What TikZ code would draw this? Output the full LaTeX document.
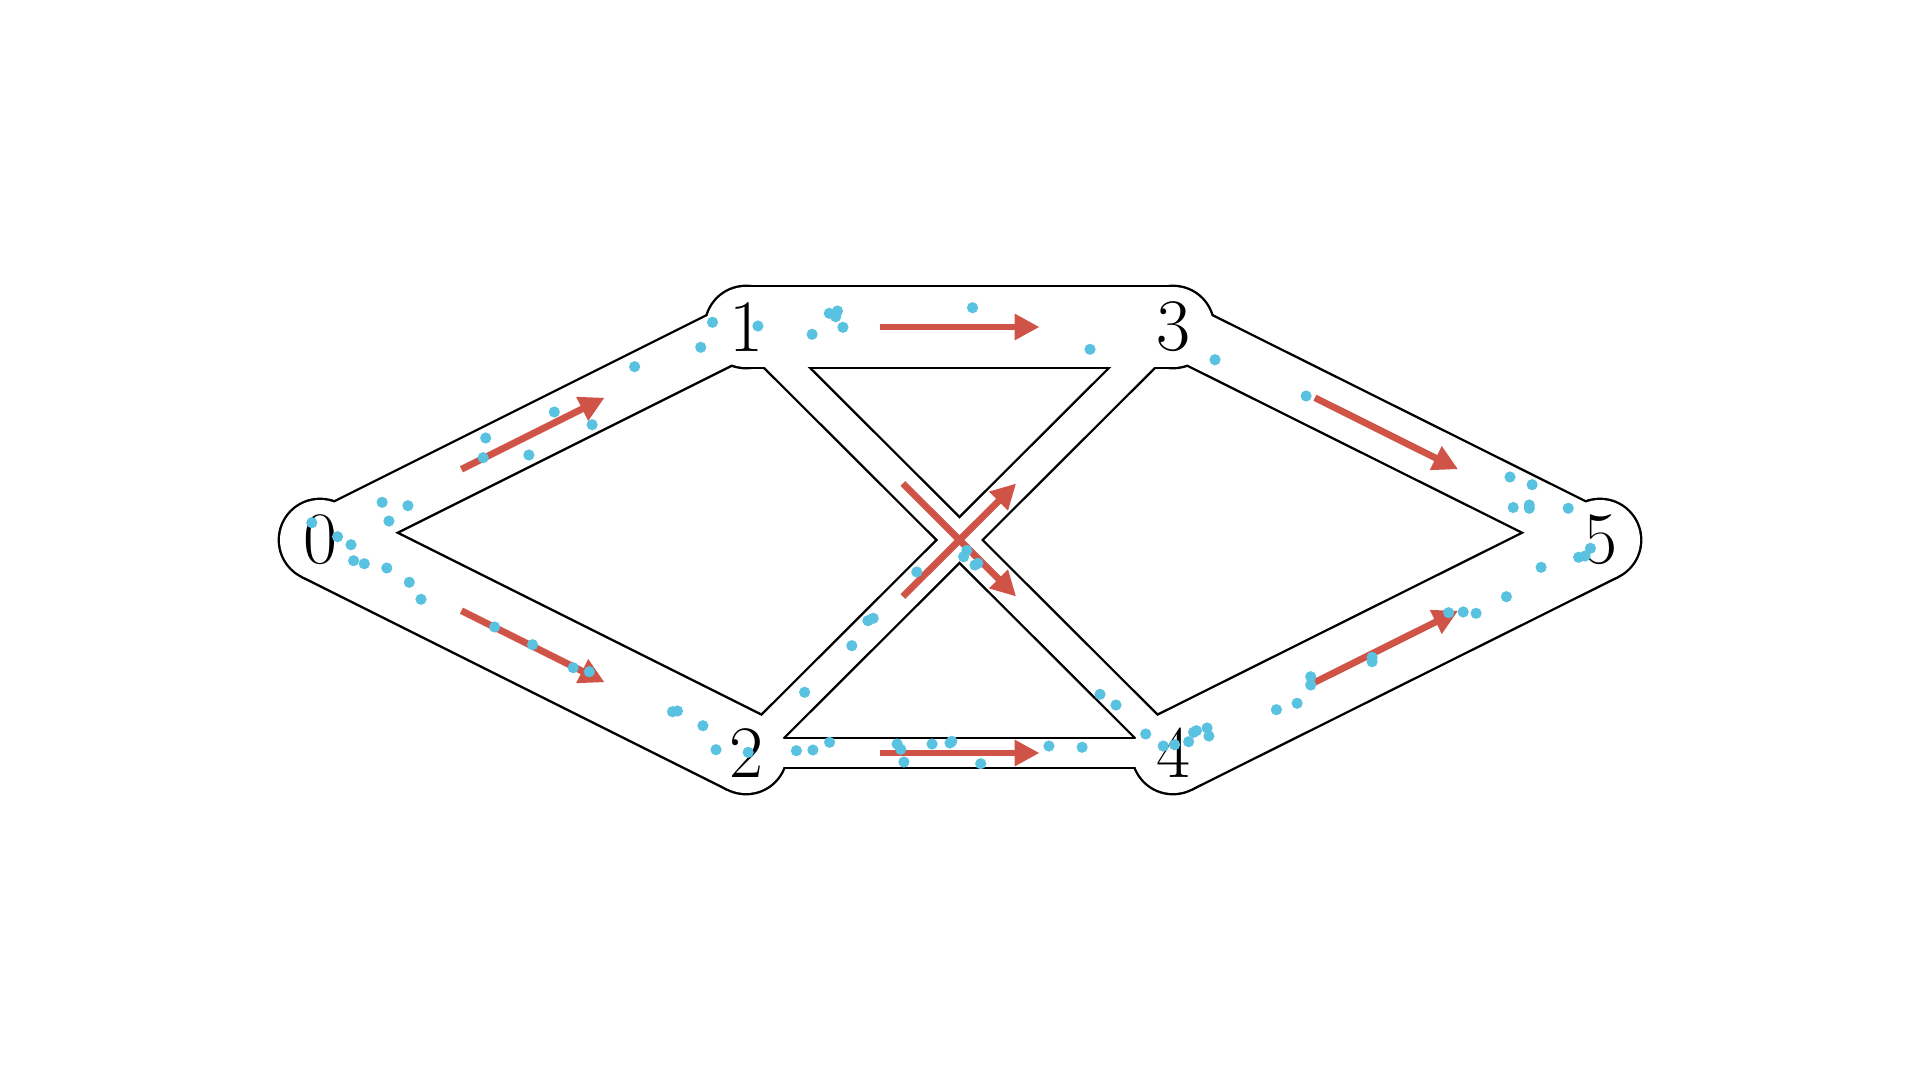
\documentclass[tikz,border=0pt]{standalone}
\usetikzlibrary{arrows.meta,calc,backgrounds}
\definecolor{flowred}{RGB}{207,83,70}
\definecolor{dotblue}{RGB}{88,194,224}
\begin{document}
\begin{tikzpicture}[x=0.5pt,y=-0.5pt,
  lbl/.style={inner sep=0pt,font=\fontsize{37}{44}\selectfont},
  flow/.style={draw=flowred,line width=3.4pt,-{Triangle[length=12.5pt,width=12.5pt]},fill=flowred},
  dot/.style={fill=dotblue},
  outl/.style={black},
  inner/.style={white}]
\useasboundingbox (0,0) rectangle (1920,1080);
\node[lbl] (n0) at (320,540) {0};
\node[lbl] (n1) at (746,327) {1};
\node[lbl] (n2) at (746,753) {2};
\node[lbl] (n3) at (1173,327) {3};
\node[lbl] (n4) at (1173,753) {4};
\node[lbl] (n5) at (1600,540) {5};
\begin{scope}[on background layer]
  % outlines
  \foreach \a/\b/\w in {n0/n1/27,n0/n2/40,n1/n3/40,n2/n4/14,n1/n4/15,n2/n3/15,n3/n5/27,n4/n5/40}{
    \pgfmathsetmacro\wo{\w+2.4}
    \draw[outl,line width=\wo pt] (\a.center) -- (\b.center);
  }
  \foreach \n in {n0,n1,n2,n3,n4,n5}{
    \fill[outl] (\n.center) circle (21.2pt);
  }
  % interiors
  \foreach \a/\b/\w in {n0/n1/27,n0/n2/40,n1/n3/40,n2/n4/14,n1/n4/15,n2/n3/15,n3/n5/27,n4/n5/40}{
    \draw[inner,line width=\w pt] (\a.center) -- (\b.center);
  }
  \foreach \n in {n0,n1,n2,n3,n4,n5}{
    \fill[inner] (\n.center) circle (20pt);
  }
\end{scope}
% flow arrows
\foreach \a/\b in {n0/n1,n0/n2,n1/n3,n2/n4,n1/n4,n2/n3,n3/n5,n4/n5}{
  \coordinate (m) at ($(\a.center)!0.5!(\b.center)$);
  \draw[flow] ($(m)!40pt!(\a.center)$) -- ($(m)!40pt!(\b.center)$);
}
% particles
\foreach \x/\y in {712.5/322.3,757.9/326,700.7/347.3,634.6/366.7,554.3/412,592.1/424.7,
  485.7/438,483.2/457.7,528.9/455,382.1/502.3,407.9/505.7,388.9/521,311.8/522.7,
  337.5/536.7,351/544.7,353.6/560.7,364.3/563.7,386.8/568,409.3/582.3,421/599.3,
  494.6/627,532.5/644.7,573.2/667.7,589.3/671.7,672.5/711.7,677.5/711,702.9/725.7,
  716/749.7,748.2/752.3,796.4/750.7,804.6/692.3,829.3/313.3,837.5/311,835.7/316.7,
  842.9/327.3,812.1/334.3,972.5/307.7,1090/349.3,1215/359.7,966.8/550.5,963.6/556.7,
  977.9/563.3,975/565,916.8/572,867.9/620.7,873.2/618.3,851.8/645.7,812.9/750,
  829.6/742.3,897.1/744,900.7/749.3,903.9/762,932.1/744,950/743,951.8/741.3,
  980.7/763.7,1048.9/746,1082.1/747.3,1100/694.3,1116/705,1145.7/734,1163.2/746,
  1174.6/744.7,1188.6/741.7,1193.6/732.3,1196.4/730.7,1207.1/728,1208.9/736,
  1276.4/709.7,1297.1/703.3,1310.7/676.7,1310.7/685,1372.1/657.3,1372.1/661.7,
  1448.6/612.7,1463.2/612,1476.1/613.3,1506.4/596.7,1541.1/567.3,1578.6/557.3,
  1585/556,1590.4/548.3,1513.2/507.5,1529.3/505,1529.3/508.3,1568.2/508.3,
  1306.1/396,1510/477,1532.1/484.7}{
  \fill[dot] (\x,\y) circle (2.8pt);
}
\end{tikzpicture}
\end{document}
